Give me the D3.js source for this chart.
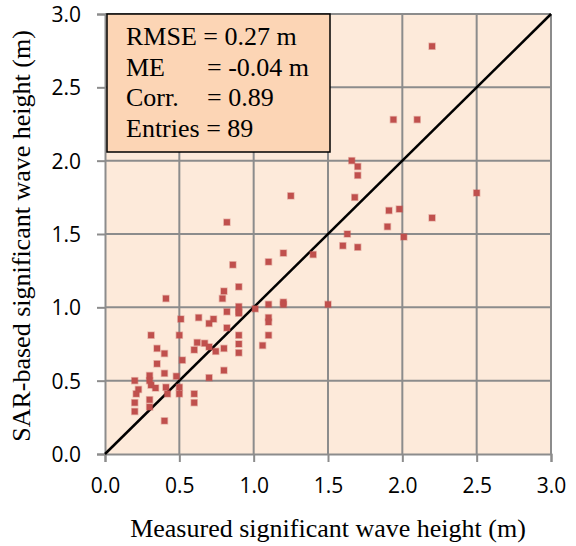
<!DOCTYPE html>
<html>
<head>
  <script src="https://d3js.org/d3.v7.min.js"></script>
  <style>
    body { margin: 0; background: #fff; }
    .tick-label { font-family: "Open Sans", sans-serif; font-size: 21px; fill: #000; }
    .axis-title { font-family: "Liberation Serif", "Times New Roman", serif; font-size: 26px; fill: #000; }
    .stats { font-family: "Liberation Serif", "Times New Roman", serif; font-size: 26px; fill: #000; }
  </style>
</head>
<body>
  <script>
    // measured (x) vs SAR-based (y) significant wave height, metres
    const measured = [
      2.20, 2.10, 1.94, 2.50, 1.66, 1.70, 1.70, 1.68, 1.91, 1.98,
      2.20, 1.90, 1.63, 2.01, 1.60, 1.70, 1.40, 1.50, 1.25, 1.20,
      1.10, 0.82, 0.86, 0.90, 0.80, 0.79, 0.90, 0.90, 0.90, 0.82,
      1.01, 1.10, 1.20, 1.20, 0.63, 0.73, 0.70, 0.82, 1.10, 1.10,
      1.10, 0.90, 1.06, 0.90, 0.90, 0.62, 0.67, 0.70, 0.745, 0.80,
      0.80, 0.70, 0.60, 0.41, 0.51, 0.31, 0.50, 0.35, 0.40, 0.52,
      0.35, 0.40, 0.30, 0.48, 0.20, 0.30, 0.31, 0.34, 0.225, 0.41,
      0.42, 0.50, 0.50, 0.21, 0.20, 0.20, 0.30, 0.30, 0.40, 0.60,
      0.60
    ];
    const sarBased = [
      2.78, 2.28, 2.28, 1.78, 2.00, 1.96, 1.90, 1.75, 1.66, 1.67,
      1.61, 1.55, 1.50, 1.48, 1.42, 1.41, 1.36, 1.02, 1.76, 1.37,
      1.31, 1.58, 1.29, 1.14, 1.11, 1.06, 1.005, 0.97, 0.96, 0.97,
      0.99, 1.02, 1.035, 1.02, 0.93, 0.92, 0.89, 0.86, 0.93, 0.90,
      0.81, 0.81, 0.74, 0.75, 0.69, 0.76, 0.755, 0.73, 0.70, 0.72,
      0.57, 0.52, 0.71, 1.06, 0.92, 0.81, 0.81, 0.72, 0.685, 0.64,
      0.615, 0.55, 0.535, 0.53, 0.50, 0.50, 0.47, 0.45, 0.44, 0.455,
      0.41, 0.455, 0.41, 0.41, 0.35, 0.29, 0.37, 0.32, 0.226, 0.41,
      0.35
    ];
    const ticks = [0, 0.5, 1.0, 1.5, 2.0, 2.5, 3.0];
    const statLines = [
      ["RMSE = 0.27 m", ""],
      ["ME", "= -0.04 m"],
      ["Corr.", "= 0.89"],
      ["Entries = 89", ""]
    ];

    const width = 576, height = 546;
    const plotL = 105, plotR = 551, plotT = 14, plotB = 454;

    const svg = d3.select("body").append("svg")
      .attr("width", width)
      .attr("height", height);

    const x = d3.scaleLinear().domain([0, 3]).range([plotL, plotR]);
    const y = d3.scaleLinear().domain([0, 3]).range([plotB, plotT]);

    svg.append("rect")
      .attr("x", plotL).attr("y", plotT)
      .attr("width", plotR - plotL).attr("height", plotB - plotT)
      .attr("fill", "#fdeada");

    // grid
    svg.append("g").selectAll("line")
      .data(ticks.slice(1))
      .join("line")
      .attr("x1", d => x(d)).attr("x2", d => x(d))
      .attr("y1", plotT).attr("y2", plotB)
      .attr("stroke", "#8c8c8c").attr("stroke-width", 2);
    svg.append("g").selectAll("line")
      .data(ticks.slice(1))
      .join("line")
      .attr("x1", plotL).attr("x2", plotR)
      .attr("y1", d => y(d)).attr("y2", d => y(d))
      .attr("stroke", "#8c8c8c").attr("stroke-width", 2);

    // axes
    const xAxis = d3.axisBottom(x).tickValues(ticks).tickSize(8).tickFormat(d3.format(".1f"));
    const yAxis = d3.axisLeft(y).tickValues(ticks).tickSize(8).tickFormat(d3.format(".1f"));

    const gx = svg.append("g").attr("transform", `translate(0,${plotB})`).call(xAxis);
    const gy = svg.append("g").attr("transform", `translate(${plotL},0)`).call(yAxis);
    [gx, gy].forEach(g => {
      g.select(".domain").attr("stroke", "#8c8c8c").attr("stroke-width", 2);
      g.selectAll(".tick line").attr("stroke", "#8c8c8c").attr("stroke-width", 2);
      g.selectAll(".tick text").attr("class", "tick-label").attr("fill", "#000");
    });
    gx.selectAll(".tick text").attr("dy", "0.71em").attr("y", 24);
    gy.selectAll(".tick text").attr("x", -24).attr("dy", "0.35em");

    // 1:1 line
    svg.append("line")
      .attr("x1", x(0)).attr("y1", y(0))
      .attr("x2", x(3)).attr("y2", y(3))
      .attr("stroke", "#000").attr("stroke-width", 2.5);

    // points
    const pts = measured.map((m, i) => [m, sarBased[i]]);
    svg.append("g").selectAll("rect")
      .data(pts)
      .join("rect")
      .attr("x", d => x(d[0]) - 3)
      .attr("y", d => y(d[1]) - 3)
      .attr("width", 6).attr("height", 6)
      .attr("fill", "#c0504d")
      .attr("stroke", "rgba(192,80,77,0.35)")
      .attr("stroke-width", 1.5);

    // stats box
    svg.append("rect")
      .attr("x", 107).attr("y", 14)
      .attr("width", 223).attr("height", 138)
      .attr("fill", "#fcd5b5")
      .attr("stroke", "#000").attr("stroke-width", 1.5);

    const st = svg.append("g").attr("class", "stats");
    statLines.forEach((l, i) => {
      st.append("text").attr("x", 126).attr("y", 45 + i * 30.7).text(l[0]);
      if (l[1]) st.append("text").attr("x", 207).attr("y", 45 + i * 30.7).text(l[1]);
    });

    svg.append("text")
      .attr("class", "axis-title")
      .attr("x", 328).attr("y", 537)
      .attr("text-anchor", "middle")
      .text("Measured significant wave height (m)");

    svg.append("text")
      .attr("class", "axis-title")
      .attr("transform", `translate(30,236) rotate(-90)`)
      .attr("text-anchor", "middle")
      .text("SAR-based significant wave height (m)");
  </script>
</body>
</html>
